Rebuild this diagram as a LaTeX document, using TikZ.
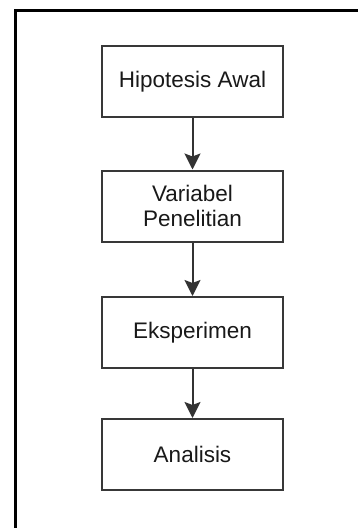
\documentclass[tikz,border=0pt]{standalone}
\usepackage{fontspec}
\setmainfont{Liberation Sans}
\usetikzlibrary{arrows.meta}
\begin{document}
\begin{tikzpicture}[x=1pt,y=-1pt,
  stepbox/.style={draw=black!78, line width=2pt, fill=white, minimum width=181pt, minimum height=71pt, inner sep=0pt, align=center, text=black!90, font=\fontsize{22.5}{25}\selectfont},
  flow/.style={draw=black!80, line width=2pt, -{Stealth[length=16pt,width=16pt,inset=3pt]}}]
\useasboundingbox (0,0) rectangle (358,528);
\fill[white] (0,0) rectangle (358,528);
\draw[line width=3pt, black] (15,528) -- (15,10) -- (358,10);
\node[stepbox] (a) at (192.5,81.5) {Hipotesis Awal};
\node[stepbox] (b) at (192.5,206) {Variabel\\Penelitian};
\node[stepbox] (c) at (192.5,332.5) {Eksperimen};
\node[stepbox] (d) at (192.5,454.5) {Analisis};
\draw[flow] (a) -- (b);
\draw[flow] (b) -- (c);
\draw[flow] (c) -- (d);
\end{tikzpicture}
\end{document}
